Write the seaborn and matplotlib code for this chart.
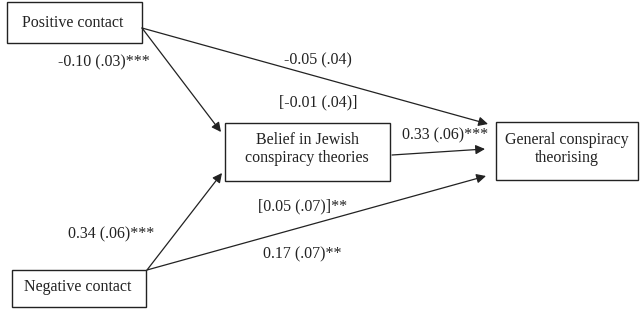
import pandas as pd
import seaborn as sns
import matplotlib.pyplot as plt
from matplotlib.patches import Rectangle

# Nodes of the path model
node_names = ["pos", "neg", "jew", "gen"]
node_labels = ["Positive contact", "Negative contact",
               "Belief in Jewish\nconspiracy theories", "General conspiracy\ntheorising"]

# Path estimates: coefficient, standard error, significance stars
path_from = ["pos", "pos", "jew", "neg", "neg"]
path_to = ["jew", "gen", "gen", "jew", "gen"]
path_coef = [-0.10, -0.05, 0.33, 0.34, 0.17]
path_se = [0.03, 0.04, 0.06, 0.06, 0.07]
path_stars = ["***", "", "***", "***", "**"]

# Bracketed estimates
bracket_coef = [-0.01, 0.05]
bracket_se = [0.04, 0.07]
bracket_stars = ["", "**"]


def fmt(c, s, st):
    return f"{c:.2f} ({s:.2f})".replace("(0.", "(.") + st


sns.set_style("white")
plt.rcParams["font.family"] = ["Liberation Serif", "DejaVu Serif"]

# layout (pixel space)
boxes = {
    "pos": (7, 2, 135, 41),
    "neg": (12, 270, 134, 37),
    "jew": (225, 123, 165, 58),
    "gen": (496, 122, 142, 58),
}
text_pos = {
    "pos": (73, 23),
    "neg": (78, 287),
    "jew": (307, 149),
    "gen": (567, 149),
}
arrow_ends = {
    ("pos", "jew"): ((142, 28), (221, 132)),
    ("pos", "gen"): ((142, 28), (488, 124)),
    ("jew", "gen"): ((392, 155), (485, 149)),
    ("neg", "jew"): ((147, 270), (222, 173)),
    ("neg", "gen"): ((147, 270), (486, 176)),
}
label_pos = [(104, 62), (318, 60), (445, 135), (111, 234), (302, 254)]
bracket_pos = [(318, 102), (303, 206)]

nodes = pd.DataFrame({"name": node_names, "label": node_labels})
paths = pd.DataFrame({"src": path_from, "dst": path_to, "coef": path_coef,
                      "se": path_se, "stars": path_stars})

fig = plt.figure(figsize=(6.4, 3.09), dpi=100)
ax = fig.add_axes([0, 0, 1, 1])
ax.set_xlim(0, 640)
ax.set_ylim(309, 0)
ax.axis("off")

ink = "#222222"
fs = 11.5

for _, r in nodes.iterrows():
    x, y, w, h = boxes[r["name"]]
    ax.add_patch(Rectangle((x, y), w, h, fill=False, edgecolor=ink, lw=1.0))
    tx, ty = text_pos[r["name"]]
    ax.text(tx, ty, r["label"], ha="center", va="center", fontsize=fs,
            color=ink, linespacing=1.25)

for i, r in paths.iterrows():
    (x0, y0), (x1, y1) = arrow_ends[(r["src"], r["dst"])]
    ax.annotate("", xy=(x1, y1), xytext=(x0, y0),
                arrowprops=dict(arrowstyle="-|>", color=ink, lw=0.9,
                                mutation_scale=14, shrinkA=0, shrinkB=0))
    lx, ly = label_pos[i]
    ax.text(lx, ly, fmt(r["coef"], r["se"], r["stars"]), ha="center",
            va="center", fontsize=fs, color=ink)

for i in range(len(bracket_coef)):
    lx, ly = bracket_pos[i]
    txt = "[" + fmt(bracket_coef[i], bracket_se[i], "") + "]" + bracket_stars[i]
    ax.text(lx, ly, txt, ha="center", va="center", fontsize=fs, color=ink)

fig.savefig("out.png", dpi=100)
